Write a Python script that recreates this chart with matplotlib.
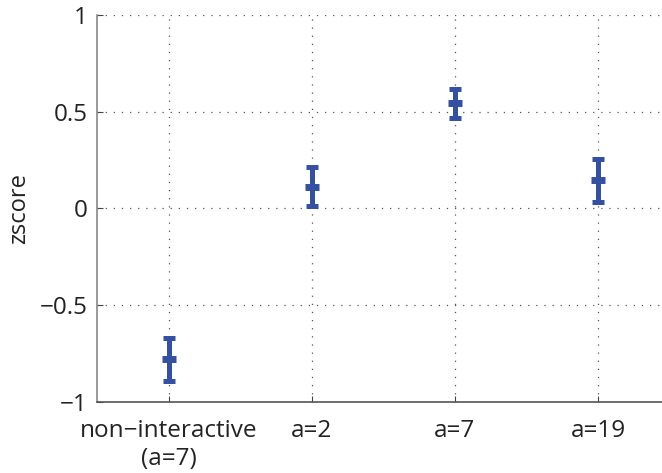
import matplotlib
matplotlib.use("Agg")
import matplotlib.pyplot as plt

# Condition labels and z-score summaries (mean and error half-width)
categories = ["non\u2212interactive\n(a=7)", "a=2", "a=7", "a=19"]
means = [-0.78, 0.113, 0.543, 0.145]
errors = [0.11, 0.099, 0.074, 0.11]
yticks = [-1, -0.5, 0, 0.5, 1]
ytick_labels = ["\u22121", "\u22120.5", "0", "0.5", "1"]

plt.rcParams["font.family"] = ["Open Sans", "DejaVu Sans"]

fig = plt.figure(figsize=(6.62, 4.73), dpi=100)
W, H = 662, 473
left, right, top, bottom = 97, 669.5, 15, 402
ax = fig.add_axes([left / W, 1 - bottom / H, (right - left) / W, (bottom - top) / H])

x = list(range(1, len(categories) + 1))
color = "#3350a3"
ax.errorbar(x, means, yerr=errors, fmt="none", ecolor=color, elinewidth=3.6,
            capsize=4.5, capthick=3.6, zorder=3)
ax.plot(x, means, linestyle="none", marker="_", markersize=10,
        markeredgewidth=5, color=color, zorder=4)

ax.set_xlim(0.5, 4.5)
ax.set_ylim(-1, 1)
ax.set_xticks(x)
ax.set_xticklabels(categories, fontsize=17.5, color="#222222", linespacing=1.25)
ax.set_yticks(yticks)
ax.set_yticklabels(ytick_labels, fontsize=17.5, color="#222222")
ax.set_ylabel("zscore", fontsize=17, color="#222222", labelpad=6)

ax.grid(True, linestyle=(0, (1, 5.5)), color="#555555", linewidth=0.9)
ax.set_axisbelow(True)

for side in ("top", "right"):
    ax.spines[side].set_visible(False)
ax.spines["left"].set_color("#888888")
ax.spines["bottom"].set_color("#555555")
ax.spines["left"].set_linewidth(1.2)
ax.spines["bottom"].set_linewidth(1.2)
ax.tick_params(direction="in", length=4, width=0.8, color="#444444")
ax.tick_params(axis="x", pad=12)
ax.tick_params(axis="y", pad=7)

fig.savefig("out.png", dpi=100)
